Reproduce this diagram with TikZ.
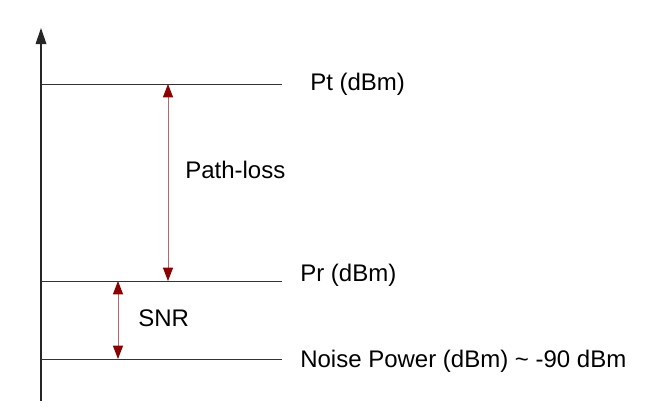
\documentclass[tikz,border=0pt]{standalone}
\usepackage{fontspec}
\setmainfont{Liberation Sans}
\usepackage{tikz}
\usetikzlibrary{arrows.meta}

\definecolor{lossred}{HTML}{8B0000}

\begin{document}
\begin{tikzpicture}[x=0.75pt, y=-0.75pt,
    level/.style={thin, black!80},
    gap/.style={{Triangle[width=7.5pt,length=10pt,color=lossred]}-{Triangle[width=7.5pt,length=10pt,color=lossred]}, draw=lossred!60, line width=0.7pt},
    lbl/.style={anchor=west, inner sep=0pt, font=\fontsize{18}{21}\selectfont}]
  \useasboundingbox (0,0) rectangle (668,414);
  % Power axis
  \coordinate (base) at (41,401);
  \coordinate (top) at (41,28);
  \draw[-{Triangle[width=8pt,length=12pt]}, line width=0.9pt, black!85] (base) -- (top);
  % Power levels
  \coordinate (pt0) at (41,84);   \coordinate (pt1) at (282,84);
  \coordinate (pr0) at (41,281);  \coordinate (pr1) at (282,281);
  \coordinate (nz0) at (41,359);  \coordinate (nz1) at (282,359);
  \draw[level] (pt0) -- (pt1);
  \draw[level] (pr0) -- (pr1);
  \draw[level] (nz0) -- (nz1);
  % Labels
  \node[lbl] (ptlabel) at (310,84) {Pt (dBm)};
  \node[lbl] (prlabel) at (300,275) {Pr (dBm)};
  \node[lbl] (nzlabel) at (300,361) {Noise Power (dBm) \textasciitilde{} -90 dBm};
  % Path-loss and SNR
  \coordinate (plt) at (168,84);  \coordinate (plb) at (168,281);
  \coordinate (snt) at (118,281); \coordinate (snb) at (118,359);
  \draw[gap] (plt) -- (plb);
  \draw[gap] (snt) -- (snb);
  \node[lbl] (plabel) at (185,170) {Path-loss};
  \node[lbl] (slabel) at (138,318) {SNR};
\end{tikzpicture}
\end{document}
